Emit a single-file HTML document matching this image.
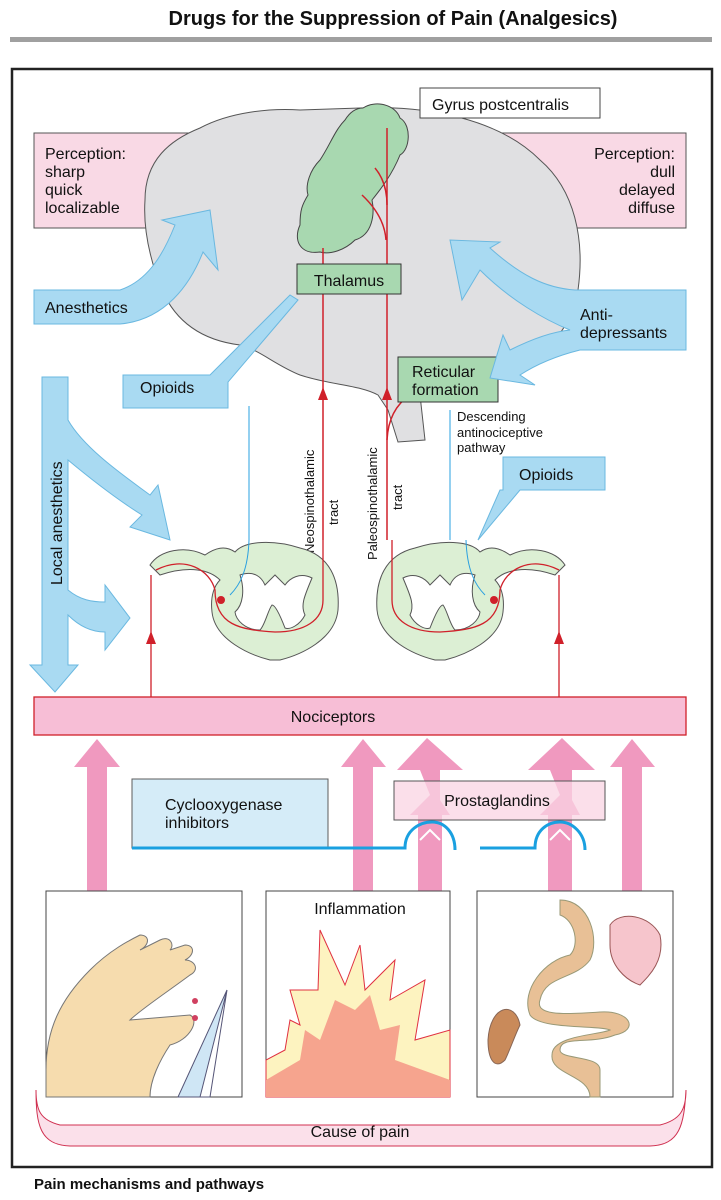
<!DOCTYPE html>
<html><head><meta charset="utf-8"><style>
html,body{margin:0;padding:0;background:#fff;}
svg{display:block;font-family:"Liberation Sans",sans-serif;}
</style></head><body>
<svg width="721" height="1200" viewBox="0 0 721 1200" xmlns="http://www.w3.org/2000/svg">
<text x="393" y="25" font-size="20" font-weight="bold" text-anchor="middle" fill="#111">Drugs for the Suppression of Pain (Analgesics)</text>
<rect x="10" y="37" width="702" height="5" fill="#a0a0a0"/>
<rect x="12" y="69" width="700" height="1098" fill="none" stroke="#222" stroke-width="2.5"/>

<rect x="34" y="133" width="190" height="95" fill="#f9d9e5" stroke="#555"/>
<rect x="490" y="133" width="196" height="95" fill="#f9d9e5" stroke="#555"/>
<text font-size="16" fill="#111"><tspan x="45" y="159">Perception:</tspan><tspan x="45" y="177">sharp</tspan><tspan x="45" y="195">quick</tspan><tspan x="45" y="213">localizable</tspan></text>
<text font-size="16" fill="#111" text-anchor="end"><tspan x="675" y="159">Perception:</tspan><tspan x="675" y="177">dull</tspan><tspan x="675" y="195">delayed</tspan><tspan x="675" y="213">diffuse</tspan></text>

<path d="M145,200 C145,160 170,140 200,128 C230,112 270,108 300,110 L360,108 C430,105 500,120 540,160 C575,190 585,240 578,290 C572,330 540,360 515,372 L495,380 L420,395 L425,440 L398,442 L388,410 L378,395 C360,385 330,385 300,375 C275,365 260,350 240,345 C200,340 175,320 162,290 C150,260 143,230 145,200 Z" fill="#e0e0e2" stroke="#555" stroke-width="1"/>
<path d="M363,108 C375,100 395,104 400,118 C412,125 410,150 400,155 C392,175 380,190 372,200 C375,215 372,235 355,240 C345,250 330,255 320,252 C300,255 293,240 300,225 C300,210 302,205 308,195 C305,185 310,170 320,160 C330,145 335,130 345,120 C350,112 356,108 363,108 Z" fill="#a8d8b0" stroke="#444" stroke-width="1"/>
<rect x="420" y="88" width="180" height="30" fill="#fff" stroke="#444"/>
<text x="432" y="110" font-size="16" fill="#111">Gyrus postcentralis</text>
<g stroke="#d0202a" stroke-width="1.5" fill="none">
<line x1="323" y1="248" x2="323" y2="540"/>
<line x1="387" y1="128" x2="387" y2="540"/>
<path d="M375,168 C385,180 387,195 387,205"/>
<path d="M362,195 C378,210 385,225 386,240"/>
<path d="M387,440 C388,420 395,405 410,395"/>
</g>
<path d="M318,400 L323,387 L328,400 Z M382,400 L387,387 L392,400 Z" fill="#d0202a"/>
<path d="M405,398 L414,390 L411,402 Z" fill="#d0202a"/>
<rect x="297" y="264" width="104" height="30" fill="#a8d8b0" stroke="#333"/>
<text x="349" y="286" font-size="16" text-anchor="middle" fill="#111">Thalamus</text>
<rect x="398" y="357" width="100" height="45" fill="#a8d8b0" stroke="#333"/>
<text font-size="16" fill="#111"><tspan x="412" y="377">Reticular</tspan><tspan x="412" y="395">formation</tspan></text>

<g fill="#a9daf2" stroke="#6ab8e0" stroke-width="1">
<path d="M34,290 L120,290 C150,280 165,250 175,225 L162,220 L210,210 L218,270 L203,252 C190,285 165,320 120,324 L34,324 Z"/>
<path d="M686,290 L686,350 L580,350 C560,355 540,362 520,375 L535,385 L490,378 L503,335 L510,350 C530,340 550,332 570,330 C545,320 510,300 480,270 L462,300 L450,240 L500,242 L490,248 C520,275 545,288 575,290 Z"/>
<path d="M123,375 L210,375 L290,295 L298,300 L228,382 L228,408 L123,408 Z"/>
<path d="M503,457 L605,457 L605,490 L520,490 L478,540 L500,490 L503,490 Z"/>
<path d="M42,377 L68,377 L68,420 C85,450 130,480 150,495 L158,485 L170,540 L130,527 L142,515 C110,495 80,470 68,460 L68,590 C80,600 92,602 105,602 L105,585 L130,618 L105,650 L105,632 C90,632 78,625 68,615 L68,665 L78,665 L55,692 L30,665 L42,665 Z"/>
</g>
<text x="519" y="480" font-size="16" fill="#111">Opioids</text>
<text x="45" y="313" font-size="16" fill="#111">Anesthetics</text>
<text font-size="16" fill="#111"><tspan x="580" y="320">Anti-</tspan><tspan x="580" y="338">depressants</tspan></text>
<text x="140" y="393" font-size="16" fill="#111">Opioids</text>
<text transform="translate(62,585) rotate(-90)" font-size="16" fill="#111">Local anesthetics</text>

<text font-size="13" fill="#111"><tspan x="457" y="421">Descending</tspan><tspan x="457" y="437">antinociceptive</tspan><tspan x="457" y="452">pathway</tspan></text>
<g font-size="13" fill="#111">
<text transform="translate(314,553) rotate(-90)">Neospinothalamic</text>
<text transform="translate(338,525) rotate(-90)">tract</text>
<text transform="translate(377,560) rotate(-90)">Paleospinothalamic</text>
<text transform="translate(402,510) rotate(-90)">tract</text>
</g>
<g stroke="#2aa0e0" stroke-width="1" fill="none">
<line x1="249" y1="406" x2="249" y2="540"/>
<line x1="450" y1="410" x2="450" y2="540"/>
</g>

<g id="sc">
<path d="M150,565 C160,550 185,545 205,555 C215,548 225,545 235,552 C245,540 275,540 300,548 C330,555 340,580 338,610 C335,640 300,655 280,660 L270,660 C250,655 215,640 212,612 C210,595 215,585 220,580 C210,570 190,565 160,575 Z" fill="#dcefd4" stroke="#555"/>
<path d="M240,575 C255,570 262,578 265,585 L275,575 L285,585 C290,578 300,572 312,578 C305,595 300,605 305,615 C300,625 290,630 285,628 C280,615 275,605 272,605 C268,610 265,625 260,630 C245,630 236,620 235,612 C243,605 245,590 240,575 Z" fill="#fff" stroke="#555"/>
<path d="M156,570 C185,555 210,570 215,590 C215,625 240,630 275,632 C305,632 323,620 323,600 L323,540" stroke="#d0202a" fill="none" stroke-width="1.3"/>
<circle cx="221" cy="600" r="4" fill="#d0202a"/>
<path d="M249,540 C248,570 240,585 230,595" stroke="#2aa0e0" fill="none"/>
</g>
<use href="#sc" transform="translate(721,0) scale(-1,1) translate(6,0)"/>
<g stroke="#d0202a" stroke-width="1.3"><line x1="151" y1="575" x2="151" y2="697"/><line x1="559" y1="575" x2="559" y2="697"/></g>
<path d="M146,644 L151,631 L156,644 Z M554,644 L559,631 L564,644 Z" fill="#d0202a"/>

<rect x="34" y="697" width="652" height="38" fill="#f7bed6" stroke="#d0202a" stroke-width="1.3"/>
<text x="333" y="722" font-size="16" text-anchor="middle" fill="#111">Nociceptors</text>

<g fill="#f099bf">
<path d="M87,892 L87,767 L74,767 L97,739 L120,767 L107,767 L107,892 Z"/>
<path d="M353,892 L353,767 L341,767 L363,739 L386,767 L373,767 L373,892 Z"/>
<path d="M622,892 L622,767 L610,767 L632,739 L655,767 L642,767 L642,892 Z"/>
<path d="M418,892 L418,815 L410,815 L430,795 L420,770 L397,770 L427,738 L463,770 L440,770 L440,800 L450,815 L442,815 L442,892 Z"/>
<path d="M548,892 L548,815 L540,815 L560,795 L550,770 L528,770 L562,738 L595,770 L572,770 L572,800 L580,815 L572,815 L572,892 Z"/>
</g>
<rect x="132" y="779" width="196" height="69" fill="#d3ecf8" stroke="#555" opacity="0.95"/>
<text font-size="16" fill="#111"><tspan x="165" y="810">Cyclooxygenase</tspan><tspan x="165" y="828">inhibitors</tspan></text>
<rect x="394" y="781" width="211" height="39" fill="#f9d4e3" stroke="#555" fill-opacity="0.75"/>
<text x="497" y="806" font-size="16" text-anchor="middle" fill="#111">Prostaglandins</text>
<g stroke="#1aa0e0" stroke-width="3" fill="none">
<path d="M132,848 L405,848 C405,830 420,822 432,822 C445,822 455,833 455,850"/>
<path d="M480,848 L535,848 C535,830 548,822 560,822 C572,822 585,833 585,850"/>
</g>
<path d="M420,840 L430,830 L440,840 M550,840 L560,830 L570,840" stroke="#fff" stroke-width="2" fill="none"/>

<rect x="46" y="891" width="196" height="206" fill="#fff" stroke="#444"/>
<rect x="266" y="891" width="184" height="206" fill="#fff" stroke="#444"/>
<rect x="477" y="891" width="196" height="206" fill="#fff" stroke="#444"/>
<text x="360" y="914" font-size="16" text-anchor="middle" fill="#111">Inflammation</text>
<path d="M46,1070 C46,1030 60,1000 90,970 C110,950 130,940 140,935 C150,935 150,945 140,950 L160,940 C170,935 175,945 170,950 L185,945 C195,945 195,955 185,960 C195,960 200,970 190,975 C170,990 140,1010 130,1020 L190,1015 C200,1020 190,1040 170,1045 C160,1060 150,1080 150,1097 L46,1097 Z" fill="#f6dcae" stroke="#777"/>
<path d="M210,1097 L227,990 L200,1097 Z M178,1097 L227,990 L210,1097 Z" fill="#cfe6f5" stroke="#557"/>
<circle cx="195" cy="1001" r="3" fill="#d04060"/><circle cx="195" cy="1018" r="3" fill="#d04060"/>
<path d="M266,1097 L266,1060 L285,1050 L290,1020 L300,1025 L290,990 L318,990 L320,930 L345,985 L360,945 L365,990 L395,960 L390,1000 L425,980 L415,1040 L450,1030 L450,1097 Z" fill="#fdf3c0" stroke="#e03040"/>
<path d="M266,1097 L266,1080 L300,1060 L305,1030 L320,1040 L335,1000 L355,1010 L370,995 L380,1030 L400,1025 L395,1060 L450,1080 L450,1097 Z" fill="#f6a48e"/>
<path d="M560,900 C590,900 600,940 590,960 C575,980 545,975 540,1000 C535,1015 560,1015 600,1012 C630,1010 640,1030 615,1035 C590,1045 560,1035 560,1050 C560,1060 600,1055 600,1070 L600,1097 L590,1097 C590,1075 550,1075 552,1055 C552,1035 600,1035 610,1030 C600,1025 540,1030 530,1015 C520,990 545,960 570,955 C580,945 575,920 560,915 Z" fill="#e8c096" stroke="#997"/>
<path d="M488,1040 C490,1005 515,1000 520,1025 C515,1035 510,1050 505,1060 C495,1070 488,1060 488,1040 Z" fill="#c98a5a" stroke="#865"/>
<path d="M610,925 C620,910 650,915 660,935 C665,960 650,975 640,985 C625,980 610,965 610,945 Z" fill="#f6c5cc" stroke="#955"/>

<path d="M36,1090 C36,1110 40,1120 60,1125 L660,1125 C680,1120 686,1110 686,1090 C684,1125 680,1145 650,1146 L70,1146 C40,1145 36,1125 36,1090 Z" fill="#fbe0ea" stroke="#d03050"/>
<text x="360" y="1137" font-size="16" text-anchor="middle" fill="#111">Cause of pain</text>

<text x="34" y="1189" font-size="15" font-weight="bold" fill="#111">Pain mechanisms and pathways</text>
</svg>
</body></html>
